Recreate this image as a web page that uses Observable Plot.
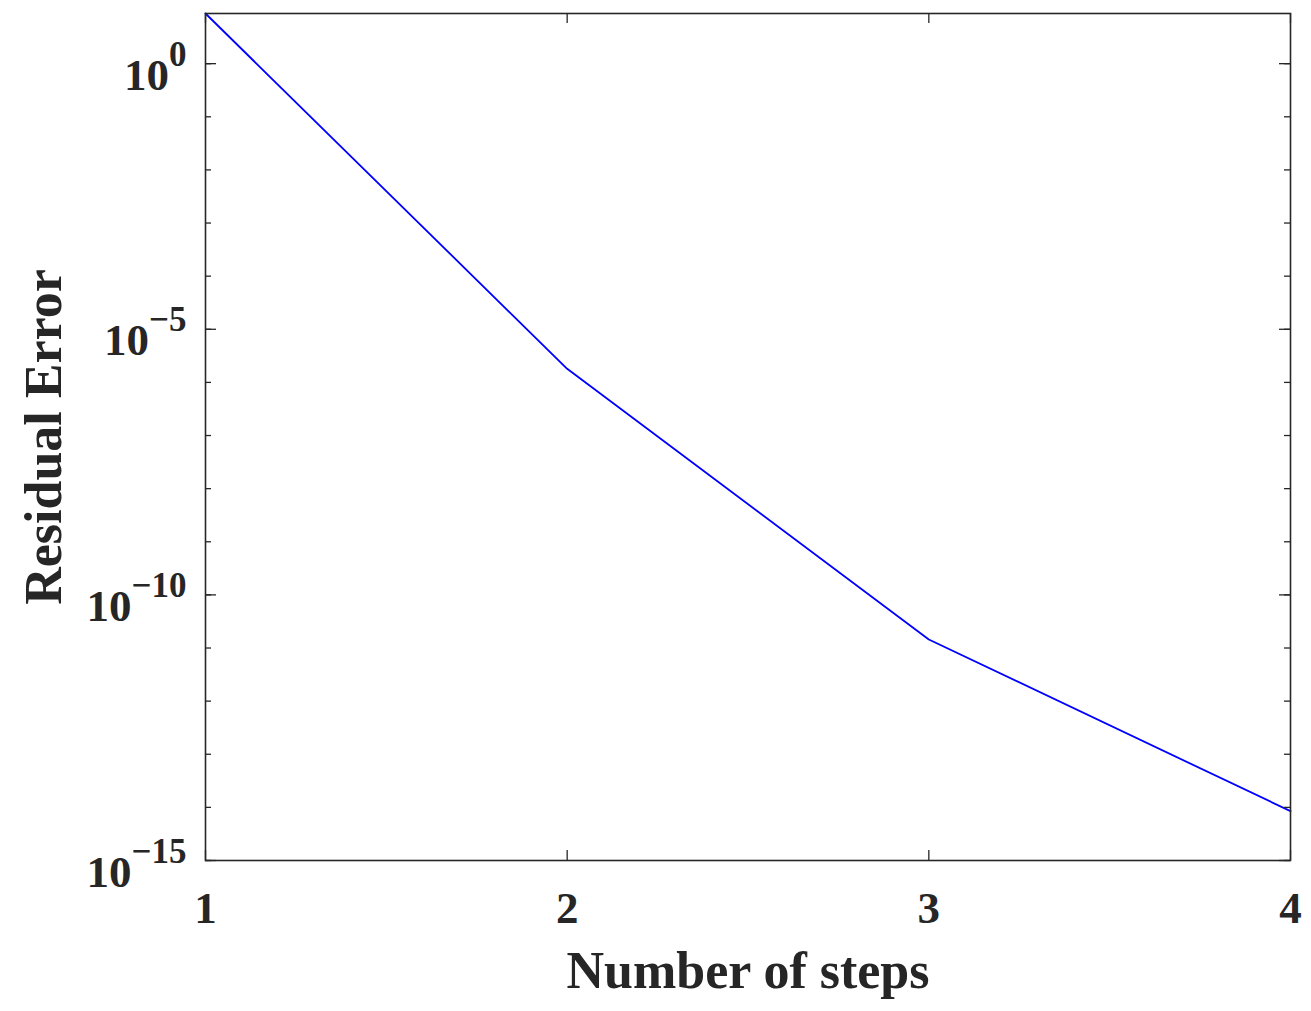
<!DOCTYPE html>
<html>
<head>
<meta charset="utf-8">
<script src="https://cdn.jsdelivr.net/npm/d3@7"></script>
<script src="https://cdn.jsdelivr.net/npm/@observablehq/plot@0.6"></script>
<style>
  html, body { margin: 0; padding: 0; background: #fff; }
  #chart svg { display: block; }
</style>
</head>
<body>
<div id="chart"></div>
<script>
// Data
const steps = [1, 2, 3, 4];
const residual = [8.8, 1.8e-6, 1.45e-11, 8.5e-15];

// Axis ticks
const xTicks = [1, 2, 3, 4];
const yMajorTicks = [1e0, 1e-5, 1e-10, 1e-15];
const yMajorExponents = ["0", "\u22125", "\u221210", "\u221215"];
const yMinorTicks = [1e0, 1e-1, 1e-2, 1e-3, 1e-4, 1e-5, 1e-6, 1e-7, 1e-8, 1e-9, 1e-10, 1e-11, 1e-12, 1e-13, 1e-14, 1e-15];

const xLabel = "Number of steps";
const yLabel = "Residual Error";

const W = 1311, H = 1011;
const mL = 205, mR = 21, mT = 13, mB = 151;
const plotW = W - mL - mR;
const plotH = H - mT - mB;
const ink = "#262626";
const font = "Liberation Serif, Times New Roman, serif";

const data = steps.map((s, i) => ({step: s, err: residual[i]}));
const yTickData = yMajorTicks.map((v, i) => ({v, e: yMajorExponents[i]}));

const chart = Plot.plot({
  width: W,
  height: H,
  marginLeft: mL,
  marginRight: mR,
  marginTop: mT,
  marginBottom: mB,
  style: {fontFamily: font, background: "#fff", overflow: "visible"},
  x: {domain: [1, 4], axis: null},
  y: {type: "log", domain: [1e-15, 8.8], axis: null},
  marks: [
    Plot.line(data, {x: "step", y: "err", stroke: "#0000ff", strokeWidth: 1.8}),
    // y ticks (inward), left and right
    Plot.tickY(yMinorTicks, {y: d => d, stroke: ink, strokeWidth: 1.3, insetRight: plotW - 6}),
    Plot.tickY(yMinorTicks, {y: d => d, stroke: ink, strokeWidth: 1.3, insetLeft: plotW - 6}),
    Plot.tickY(yMajorTicks, {y: d => d, stroke: ink, strokeWidth: 1.3, insetRight: plotW - 11}),
    Plot.tickY(yMajorTicks, {y: d => d, stroke: ink, strokeWidth: 1.3, insetLeft: plotW - 11}),
    // x ticks (inward), bottom and top
    Plot.tickX(xTicks, {x: d => d, stroke: ink, strokeWidth: 1.3, insetTop: plotH - 10}),
    Plot.tickX(xTicks, {x: d => d, stroke: ink, strokeWidth: 1.3, insetBottom: plotH - 10}),
    Plot.frame({stroke: ink, strokeWidth: 1.6}),
    // x tick labels
    Plot.text(xTicks, {
      x: d => d, text: d => String(d), frameAnchor: "bottom", lineAnchor: "bottom",
      dy: 62, fontSize: 45, fontWeight: "bold", fill: ink
    }),
    // y tick labels (exponent placed, fixed up below)
    Plot.text(yTickData, {
      y: "v", text: "e", frameAnchor: "left", textAnchor: "end", lineAnchor: "bottom",
      dx: -19, dy: 26, fontSize: 45, fontWeight: "bold", fill: ink
    }),
    // axis labels
    Plot.text([xLabel], {
      text: d => d, frameAnchor: "bottom", lineAnchor: "bottom", textAnchor: "middle", dy: 127,
      fontSize: 52, fontWeight: "bold", fill: ink
    }),
    Plot.text([yLabel], {
      text: d => d, frameAnchor: "left", lineAnchor: "bottom", textAnchor: "middle", rotate: -90, dx: -145,
      fontSize: 52, fontWeight: "bold", fill: ink
    })
  ]
});

// Turn the exponent-only labels into 10^e with a superscript
const expSet = new Set(yMajorExponents);
d3.select(chart).selectAll("text").each(function() {
  const t = d3.select(this);
  const e = t.text();
  if (!expSet.has(e) || this.querySelector("tspan")) return;
  t.text(null);
  t.append("tspan").text("10");
  t.append("tspan").attr("dy", -24).attr("font-size", 35).text(e);
});

document.getElementById("chart").appendChild(chart);
</script>
</body>
</html>
